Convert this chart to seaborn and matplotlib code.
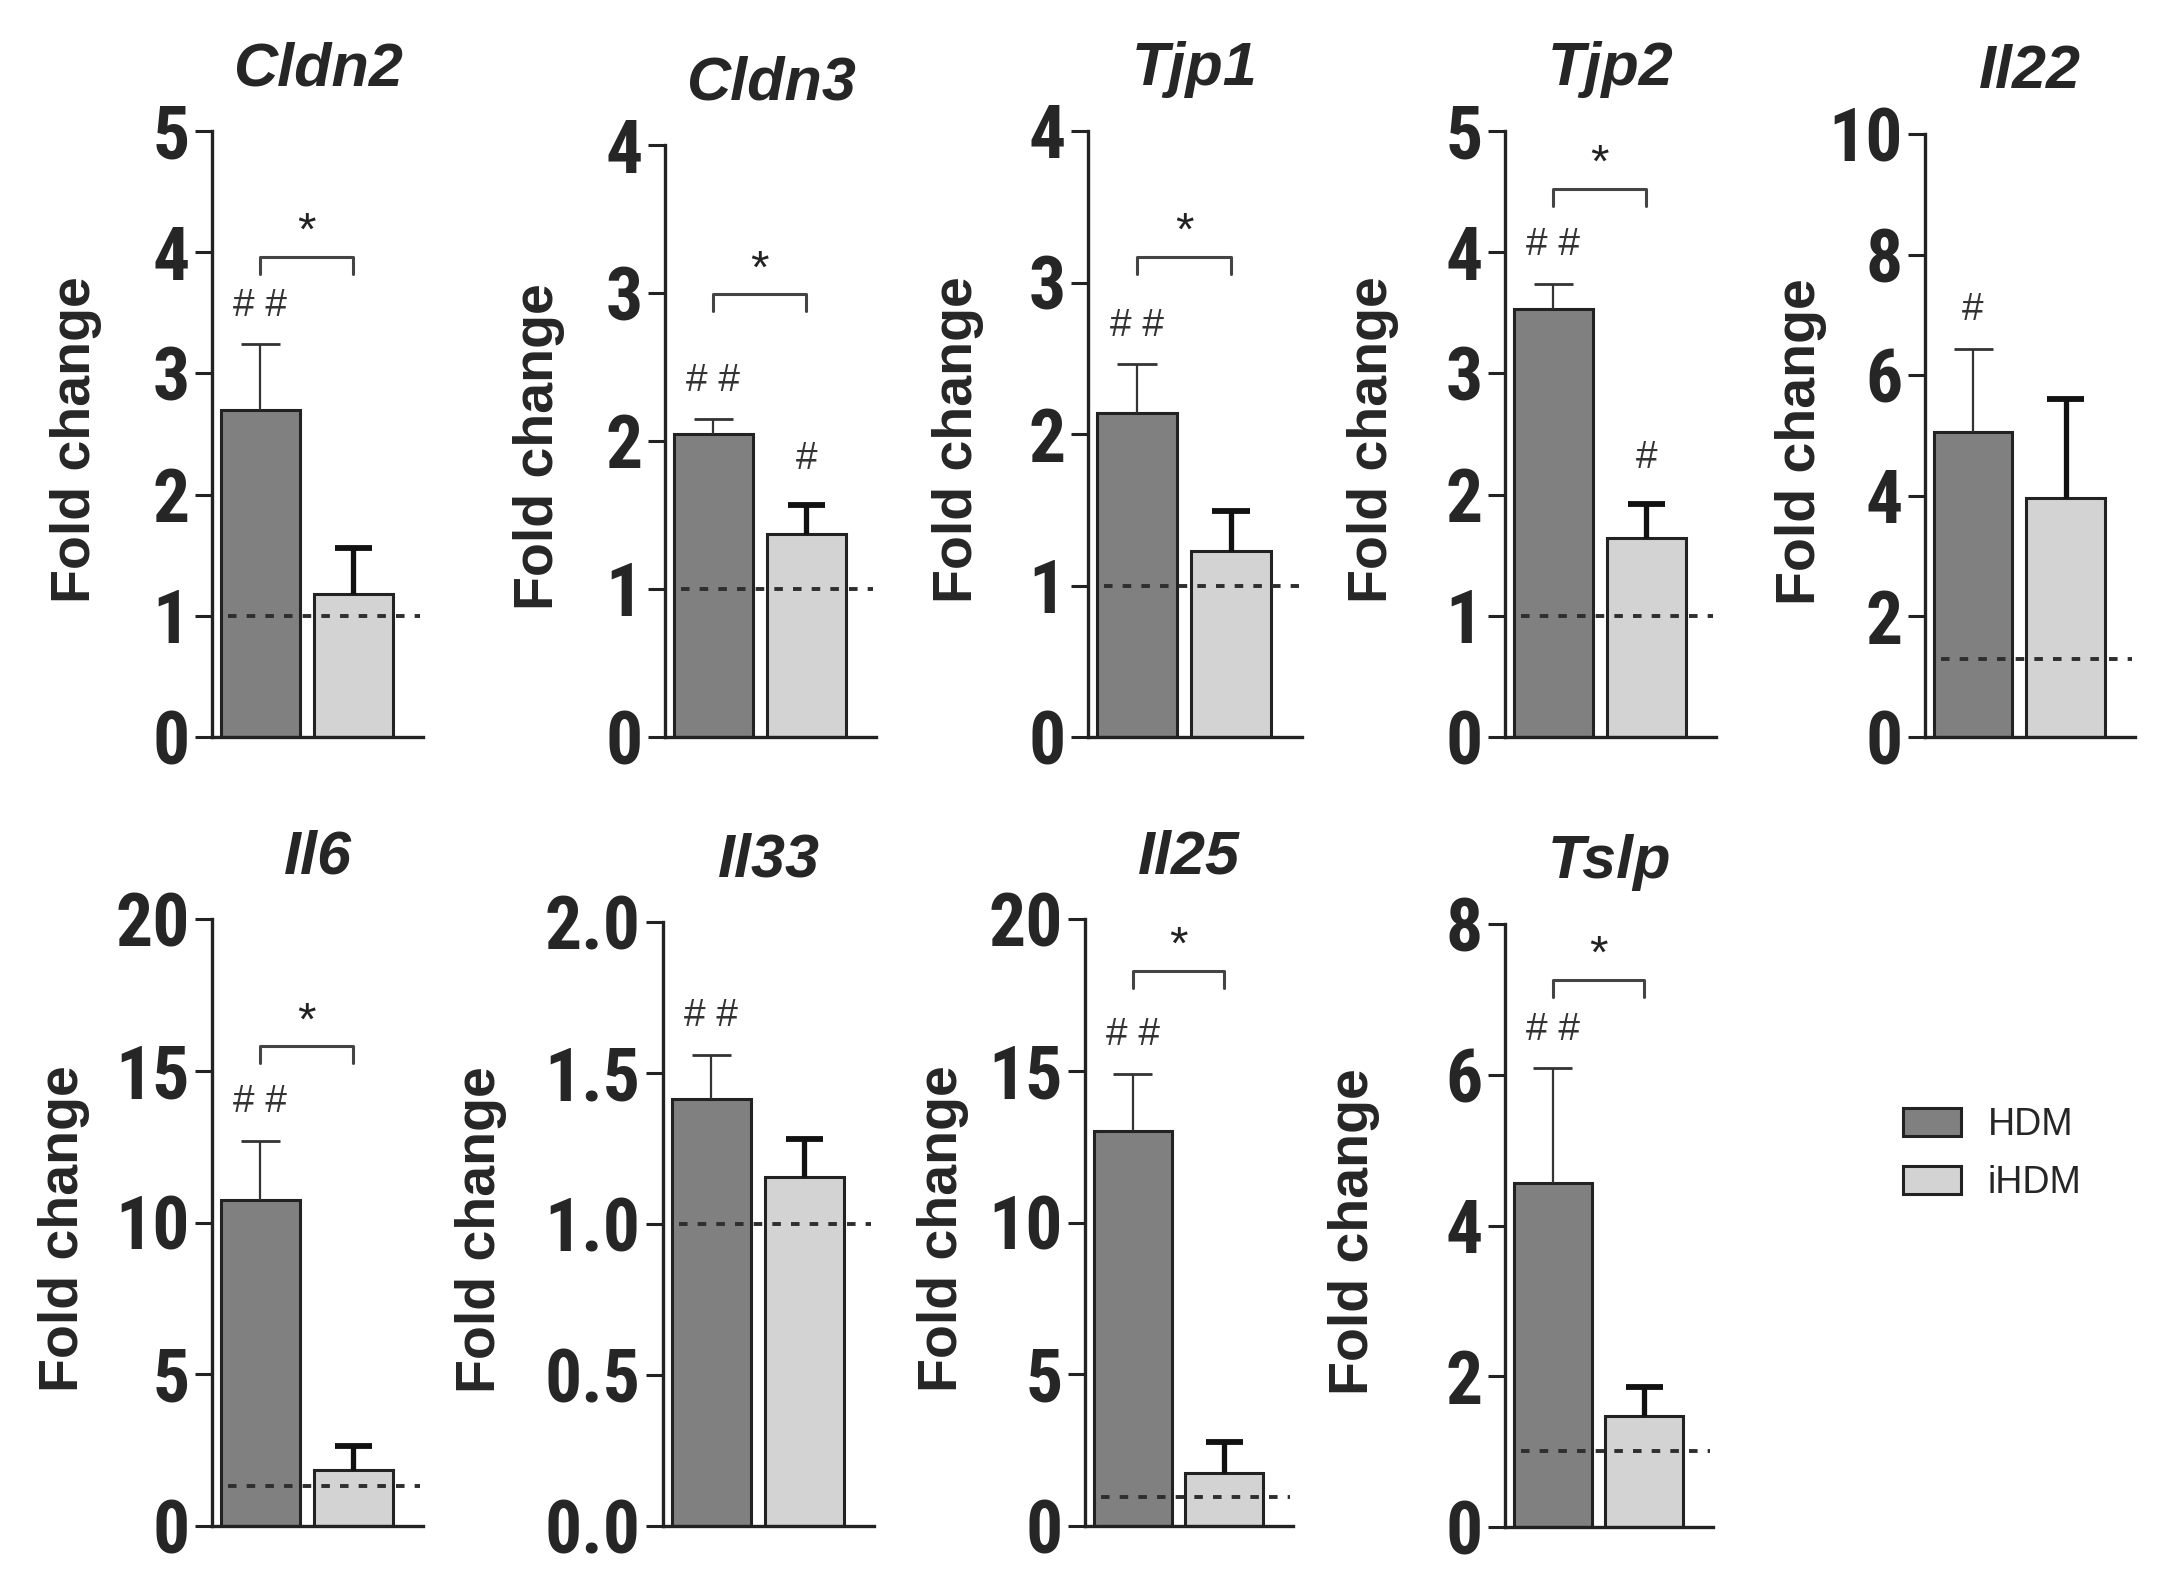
import numpy as np
import pandas as pd
import matplotlib
matplotlib.use("Agg")
import matplotlib.pyplot as plt
import seaborn as sns
from matplotlib.patches import Patch

# valeurs (moyenne et erreur vers le haut)
genes = ["Cldn2", "Cldn3", "Tjp1", "Tjp2", "Il22", "Il6", "Il33", "Il25", "Tslp"]
hdm_mean = [2.70, 2.05, 2.14, 3.53, 5.05, 10.74, 1.414, 13.0, 4.56]
hdm_err = [0.54, 0.10, 0.32, 0.21, 1.39, 1.96, 0.146, 1.9, 1.53]
ihdm_mean = [1.18, 1.37, 1.23, 1.64, 3.96, 1.86, 1.154, 1.76, 1.47]
ihdm_err = [0.38, 0.20, 0.26, 0.28, 1.65, 0.79, 0.129, 1.01, 0.39]
baseline = [1.0, 1.0, 1.0, 1.0, 1.3, 1.33, 1.0, 0.96, 1.01]
ymax = [5, 4, 4, 5, 10, 20, 2.0, 20, 8]
ystep = [1, 1, 1, 1, 2, 5, 0.5, 5, 2]
hdm_mark = ["# #", "# #", "# #", "# #", "#", "# #", "# #", "# #", "# #"]
ihdm_mark = ["", "#", "", "#", "", "", "", "", ""]
star_bracket = [3.96, 2.99, 3.17, 4.52, None, 15.8, None, 18.3, 7.26]
groups = ["HDM", "iHDM"]
colors = {"HDM": "#808080", "iHDM": "#d3d3d3"}

sns.set_theme(style="ticks")
plt.rcParams["font.family"] = ["Liberation Sans", "DejaVu Sans"]
narrow = ["Liberation Sans Narrow", "Roboto Condensed", "Liberation Sans", "DejaVu Sans"]

W, H = 2168, 1581
fig = plt.figure(figsize=(W / 100, H / 100), dpi=100)

# positions des axes en pixels : (x de l'axe y, y de l'axe x, largeur, hauteur, decalage du label)
rects = [
    (212, 737, 211, 606, 110), (665, 737, 211, 592, 100), (1088, 737, 214, 606, 104),
    (1505, 737, 211, 606, 106), (1925, 737, 210, 603, 98),
    (212, 1526, 211, 607, 122), (663, 1526, 211, 604, 156), (1085, 1526, 208, 607, 116),
    (1505, 1527, 208, 603, 125),
]

for i, g in enumerate(genes):
    x0, y0, w, h, lab = rects[i]
    ax = fig.add_axes([x0 / W, 1 - y0 / H, w / W, h / H])
    df = pd.DataFrame({"group": groups, "value": [hdm_mean[i], ihdm_mean[i]]})
    sns.barplot(data=df, x="group", y="value", hue="group", palette=colors,
                width=0.85, edgecolor="#222222", linewidth=2.2, errorbar=None,
                legend=False, ax=ax, zorder=2)

    # barres d'erreur (vers le haut seulement, un seul chapeau)
    top0 = hdm_mean[i] + hdm_err[i]
    top1 = ihdm_mean[i] + ihdm_err[i]
    ax.vlines(0, hdm_mean[i], top0, color="#333333", lw=1.6, zorder=3)
    ax.hlines(top0, -0.21, 0.21, color="#333333", lw=2.0, zorder=3)
    ax.vlines(1, ihdm_mean[i], top1, color="#111111", lw=3.8, zorder=3)
    ax.hlines(top1, 0.80, 1.20, color="#111111", lw=4.2, zorder=3)

    ax.hlines(baseline[i], -0.35, 1.72, colors="#2e2e2e", linestyles=(0, (2.2, 2.6)),
              linewidth=2.8, zorder=4)

    ax.set_xlim(-0.52, 1.75)
    ax.set_ylim(0, ymax[i])
    ticks = np.arange(0, ymax[i] + ystep[i] / 2, ystep[i])
    ax.set_yticks(ticks)
    if ystep[i] < 1:
        labels = ["%.1f" % t for t in ticks]
    else:
        labels = ["%d" % t for t in ticks]
    ax.set_yticklabels(labels, fontfamily=narrow, fontweight="bold", fontsize=53)
    ax.tick_params(axis="y", length=12, width=2.2, pad=4, color="#222222")
    ax.set_xticks([])
    ax.set_xlabel("")
    ax.set_ylabel("Fold change", fontsize=40, fontweight="bold")
    ax.yaxis.set_label_coords(-lab / w, 0.49)
    sns.despine(ax=ax)
    for s in ["left", "bottom"]:
        ax.spines[s].set_linewidth(2.4)
        ax.spines[s].set_color("#222222")
    ax.set_title(g, fontsize=44, fontweight="bold", style="italic", pad=33)

    # annotations
    if hdm_mark[i]:
        ax.text(0, top0 + 0.047 * ymax[i], hdm_mark[i], ha="center", va="baseline",
                fontsize=28, color="#333333")
    if ihdm_mark[i]:
        ax.text(1, top1 + 0.06 * ymax[i], ihdm_mark[i], ha="center", va="baseline",
                fontsize=28, color="#333333")
    b = star_bracket[i]
    if b is not None:
        d = 0.028 * ymax[i]
        ax.plot([0, 0, 1, 1], [b - d, b, b, b - d], color="#444444", lw=2.2,
                clip_on=False)
        ax.text(0.5, b + 0.02 * ymax[i], "*", ha="center", va="baseline",
                fontsize=34, color="#222222")

handles = [Patch(facecolor=colors[k], edgecolor="#222222", linewidth=2.2) for k in groups]
fig.legend(handles, groups, loc="center left", bbox_to_anchor=(0.862, 0.27),
           frameon=False, fontsize=27, handlelength=1.57, handleheight=0.77,
           handletextpad=0.7, labelspacing=0.6)

fig.savefig("out.png", dpi=100)
